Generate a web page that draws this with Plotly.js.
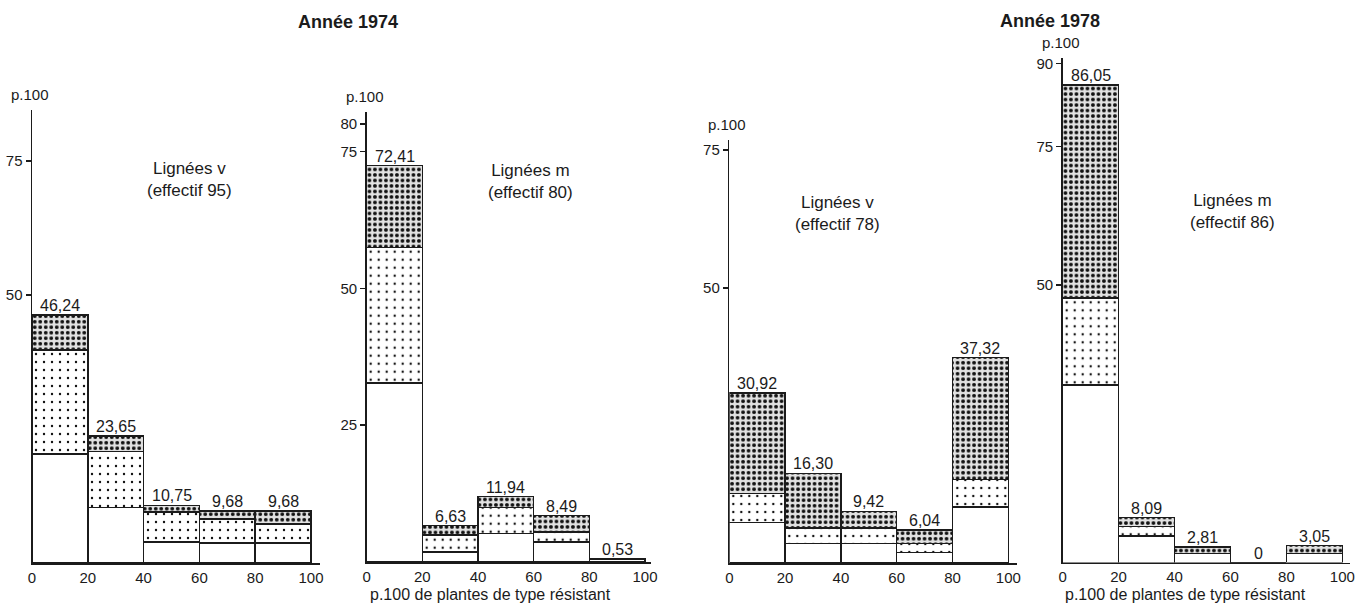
<!DOCTYPE html>
<html><head><meta charset="utf-8">
<script src="https://cdn.plot.ly/plotly-3.0.1.min.js"></script>
<style>html,body{margin:0;padding:0;background:#fff}#chart{width:1364px;height:603px}</style>
</head><body><div id="chart"></div>
<script>
// ---- data ----
const binCenters = [10, 30, 50, 70, 90];
const xTickVals = [0, 20, 40, 60, 80, 100];

// Année 1974 – Lignées v (effectif 95)
const v74_total = [46.24, 23.65, 10.75, 9.68, 9.68];
const v74_labels = ["46,24", "23,65", "10,75", "9,68", "9,68"];
const v74_white = [20.3, 10.4, 3.9, 3.7, 3.7];
const v74_plus  = [19.4, 10.4, 5.6, 4.5, 3.6];
const v74_dots  = [6.54, 2.85, 1.25, 1.48, 2.38];

// Année 1974 – Lignées m (effectif 80)
const m74_total = [72.41, 6.63, 11.94, 8.49, 0.53];
const m74_labels = ["72,41", "6,63", "11,94", "8,49", "0,53"];
const m74_white = [32.7, 1.8, 5.2, 3.7, 0.53];
const m74_plus  = [24.8, 3.1, 4.8, 1.8, 0];
const m74_dots  = [14.91, 1.73, 1.94, 2.99, 0];

// Année 1978 – Lignées v (effectif 78)
const v78_total = [30.92, 16.30, 9.42, 6.04, 37.32];
const v78_labels = ["30,92", "16,30", "9,42", "6,04", "37,32"];
const v78_white = [7.4, 3.6, 3.6, 1.9, 10.2];
const v78_plus  = [5.25, 2.8, 2.8, 1.7, 5.0];
const v78_dots  = [18.27, 9.9, 3.02, 2.44, 22.12];

// Année 1978 – Lignées m (effectif 86)
const m78_total = [86.05, 8.09, 2.81, 0, 3.05];
const m78_labels = ["86,05", "8,09", "2,81", "0", "3,05"];
const m78_white = [32.0, 4.8, 1.65, 0, 1.65];
const m78_plus  = [15.7, 1.7, 0, 0, 0];
const m78_dots  = [38.35, 1.59, 1.16, 0, 1.4];

const panelNotes = ["Lignées v<br>(effectif 95)", "Lignées m<br>(effectif 80)", "Lignées v<br>(effectif 78)", "Lignées m<br>(effectif 86)"];
const yTicks = [[50, 75], [25, 50, 75, 80], [50, 75], [50, 75, 90]];
const yearTitles = ["Année 1974", "Année 1978"];
const yUnit = "p.100";
const xTitle = "p.100 de plantes de type résistant";

// ---- layout helpers (pixel geometry) ----
const W = 1364, H = 603;
const FONT = "Liberation Sans, Arial, sans-serif";
const INK = "#1b1b1b";
function xd(p0, p100, ext) { const u = (p100 - p0) / 100; return {domain: [p0 / W, (p100 + ext * u) / W], range: [0, 100 + ext]}; }
function yd(base, ppu, topPx) { return {domain: [1 - base / H, 1 - topPx / H], range: [0, (base - topPx) / ppu]}; }

const geo = [
  {x: xd(32, 311, 3.2),       y: yd(563, 5.36, 110)},
  {x: xd(366.7, 645, 2.2),    y: yd(562, 5.473, 111.7)},
  {x: xd(729.3, 1008.3, 3),   y: yd(563.2, 5.507, 140)},
  {x: xd(1062.7, 1342.3, 2.7),y: yd(562.5, 5.547, 58.3)}
];

const panels = [
  {white: v74_white, plus: v74_plus, dots: v74_dots, total: v74_total, labels: v74_labels},
  {white: m74_white, plus: m74_plus, dots: m74_dots, total: m74_total, labels: m74_labels},
  {white: v78_white, plus: v78_plus, dots: v78_dots, total: v78_total, labels: v78_labels},
  {white: m78_white, plus: m78_plus, dots: m78_dots, total: m78_total, labels: m78_labels}
];

const traces = [];
const annotations = [];
const layout = {
  width: W, height: H, margin: {l: 0, r: 0, t: 0, b: 0},
  paper_bgcolor: "#ffffff", plot_bgcolor: "rgba(0,0,0,0)",
  barmode: "stack", showlegend: false, hovermode: false,
  font: {family: FONT, color: INK, size: 15},
  annotations: annotations
};

const lineStyle = {color: INK, width: 1.5};
panels.forEach((p, i) => {
  const n = i + 1;
  const xa = "x" + (n === 1 ? "" : n), ya = "y" + (n === 1 ? "" : n);
  const common = {type: "bar", x: binCenters, width: 20, xaxis: xa, yaxis: ya, cliponaxis: false};
  traces.push(Object.assign({}, common, {y: p.white, marker: {color: "#ffffff", line: lineStyle}}));
  traces.push(Object.assign({}, common, {y: p.plus, marker: {color: "#ffffff", line: lineStyle,
    pattern: {shape: ".", bgcolor: "#ffffff", fgcolor: "#111", size: 8, solidity: 0.07}}}));
  traces.push(Object.assign({}, common, {y: p.dots, marker: {color: "#ffffff", line: lineStyle,
    pattern: {shape: ".", bgcolor: "#e2e2e2", fgcolor: "#111", size: 5.5, solidity: 0.38}}}));

  const xk = "xaxis" + (n === 1 ? "" : n), yk = "yaxis" + (n === 1 ? "" : n);
  layout[xk] = {domain: geo[i].x.domain, range: geo[i].x.range, anchor: ya,
    showline: true, linecolor: INK, linewidth: 1.5, showgrid: false, zeroline: false,
    tickvals: xTickVals, ticks: "", ticklabelstandoff: 0, tickfont: {size: 15, color: INK}, fixedrange: true};
  layout[yk] = {domain: geo[i].y.domain, range: geo[i].y.range, anchor: xa,
    showline: true, linecolor: INK, linewidth: 1.5, showgrid: false, zeroline: false,
    tickvals: yTicks[i], ticks: "outside", ticklen: 5, tickwidth: 1.5, tickcolor: INK,
    tickfont: {size: 15, color: INK}, fixedrange: true};

  // value labels above bars
  p.total.forEach((t, j) => {
    annotations.push({xref: xa, yref: ya, x: binCenters[j], y: t, text: p.labels[j],
      showarrow: false, yanchor: "bottom", yshift: -1, font: {size: 16, color: INK}});
  });
  // y unit label
  annotations.push({xref: "paper", yref: ya + " domain", x: geo[i].x.domain[0], y: 1, text: yUnit,
    showarrow: false, xanchor: "center", yanchor: "bottom", yshift: 5, xshift: -2, font: {size: 15, color: INK}});
});

// panel notes
const notePos = [[190, 180], [530, 182], [837, 213], [1232, 212]];
notePos.forEach((pp, i) => annotations.push({xref: "paper", yref: "paper", x: pp[0] / W, y: 1 - pp[1] / H,
  text: panelNotes[i], showarrow: false, xanchor: "center", yanchor: "middle", font: {size: 17, color: INK}}));
// year titles
[[348, 22], [1050, 21]].forEach((pp, i) => annotations.push({xref: "paper", yref: "paper", x: pp[0] / W, y: 1 - pp[1] / H,
  text: "<b>" + yearTitles[i] + "</b>", showarrow: false, xanchor: "center", yanchor: "middle", font: {size: 18, color: INK}}));
// x titles under panels 2 and 4
[[490, 594], [1185, 594]].forEach(pp => annotations.push({xref: "paper", yref: "paper", x: pp[0] / W, y: 1 - pp[1] / H,
  text: xTitle, showarrow: false, xanchor: "center", yanchor: "middle", font: {size: 16, color: INK}}));

Plotly.newPlot("chart", traces, layout, {staticPlot: true, displayModeBar: false});
</script></body></html>
